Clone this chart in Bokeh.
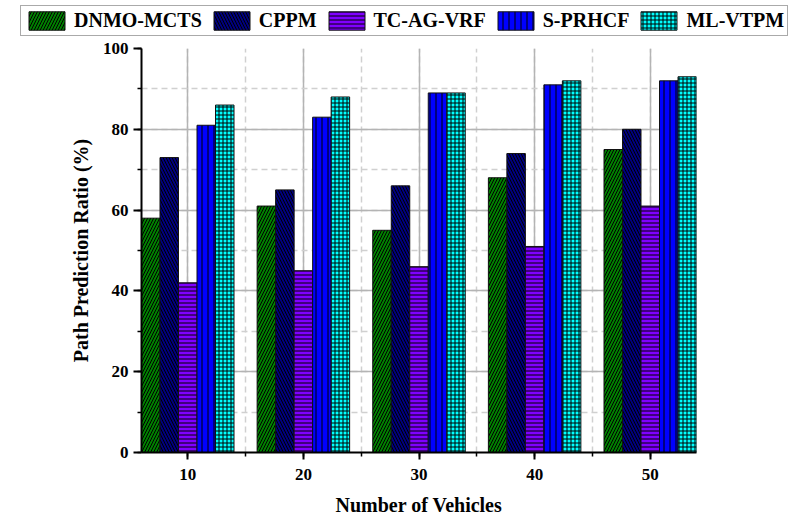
from bokeh.plotting import figure
from bokeh.layouts import column
from bokeh.models import (Range1d, SingleIntervalTicker, Legend, LegendItem)
from bokeh.embed import file_html
from bokeh.resources import INLINE

vehicles = [10, 20, 30, 40, 50]
series_names = ["DNMO-MCTS", "CPPM", "TC-AG-VRF", "S-PRHCF", "ML-VTPM"]
dnmo_mcts = [58, 61, 55, 68, 75]
cppm = [73, 65, 66, 74, 80]
tc_ag_vrf = [42, 45, 46, 51, 61]
s_prhcf = [81, 83, 89, 91, 92]
ml_vtpm = [86, 88, 89, 92, 93]
series_values = [dnmo_mcts, cppm, tc_ag_vrf, s_prhcf, ml_vtpm]

colors = ["#008000", "#000080", "#8000ff", "#0000ff", "#00ffff"]
hatches = ["right_diagonal_line", "left_diagonal_line", "horizontal_line",
           "vertical_line", "cross"]
hatch_scales = [6, 6, 4, 6, 4]

FONT = "Liberation Serif"
W = 794
LEG_H = 40
MAIN_H = 478

p = figure(width=W, height=MAIN_H, output_backend="svg", toolbar_location=None,
           x_range=Range1d(6, 54), y_range=Range1d(0, 100),
           min_border_left=141, min_border_right=W - 696, min_border_top=8,
           min_border_bottom=MAIN_H - (454 - LEG_H), outline_line_color=None,
           background_fill_color="white", border_fill_color="white")
p.frame_align = False

bar_w = 1.6
offsets = [-3.2, -1.6, 0.0, 1.6, 3.2]
for name, vals, c, h, hs, off in zip(series_names, series_values, colors,
                                     hatches, hatch_scales, offsets):
    xs = [v + off for v in vehicles]
    p.vbar(x=xs, top=vals, width=bar_w, bottom=0, fill_color=c,
           line_color="#111111", line_width=1,
           hatch_pattern=h, hatch_color="black", hatch_scale=hs,
           hatch_weight=1)

p.xaxis.ticker = SingleIntervalTicker(interval=10, num_minor_ticks=2)
p.yaxis.ticker = SingleIntervalTicker(interval=20, num_minor_ticks=2)

for ax in (p.xaxis, p.yaxis):
    ax.axis_line_width = 2
    ax.axis_line_color = "black"
    ax.major_tick_line_width = 2
    ax.minor_tick_line_width = 1.5
    ax.major_tick_in = 0
    ax.minor_tick_in = 0
    ax.major_tick_out = 7
    ax.minor_tick_out = 4
    ax.major_label_text_font = FONT
    ax.major_label_text_font_style = "bold"
    ax.major_label_text_font_size = "17px"
    ax.major_label_text_color = "black"
    ax.axis_label_text_font = FONT
    ax.axis_label_text_font_style = "bold"
    ax.axis_label_text_font_size = "20px"
    ax.axis_label_text_color = "black"

p.yaxis.major_tick_out = 8
p.xaxis.axis_label = "Number of Vehicles"
p.yaxis.axis_label = "Path Prediction Ratio (%)"
p.xaxis.major_label_standoff = 9
p.xaxis.axis_label_standoff = 11
p.yaxis.major_label_standoff = 5
p.yaxis.axis_label_standoff = 8

for g in (p.xgrid, p.ygrid):
    g.grid_line_color = "#b4b4b4"
    g.grid_line_width = 1.5
    g.minor_grid_line_color = "#d0d0d0"
    g.minor_grid_line_width = 1.5
    g.minor_grid_line_dash = "6 4"

# legend strip: same series drawn out of its visible range, used only as legend handles
lf = figure(width=W, height=LEG_H, output_backend="svg", toolbar_location=None,
            x_axis_type=None, y_axis_type=None, x_range=Range1d(6, 54),
            y_range=Range1d(1000, 1001), min_border=0, outline_line_color=None,
            background_fill_color="white", border_fill_color="white")
lf.frame_align = False
lf.xgrid.visible = False
lf.ygrid.visible = False
items = []
for name, vals, c, h, hs in zip(series_names, series_values, colors, hatches,
                                hatch_scales):
    r = lf.vbar(x=vehicles, top=vals, width=bar_w, fill_color=c,
                line_color="#111111", line_width=1, hatch_pattern=h,
                hatch_color="black", hatch_scale=hs, hatch_weight=1)
    items.append(LegendItem(label=name, renderers=[r]))

legend = Legend(items=items, orientation="horizontal", location=(20, 4),
                glyph_width=45, glyph_height=23, label_standoff=5, spacing=7,
                padding=3, margin=0,
                label_text_font=FONT, label_text_font_style="bold",
                label_text_font_size="20px", label_text_color="black",
                label_height=23,
                border_line_color="#555555", border_line_width=1.5,
                background_fill_color="white", background_fill_alpha=1)
lf.add_layout(legend, "center")

layout = column(lf, p, spacing=0)
open("out.html", "w").write(file_html(layout, INLINE))
